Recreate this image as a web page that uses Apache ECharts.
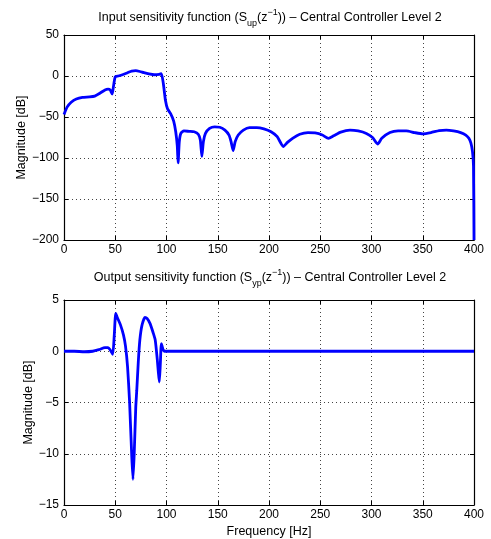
<!DOCTYPE html>
<html>
<head>
<meta charset="utf-8">
<script src="https://cdn.jsdelivr.net/npm/echarts@6/dist/echarts.min.js"></script>
<style>html,body{margin:0;padding:0;background:#fff}#c{width:491px;height:539px}</style>
</head>
<body>
<div id="c"></div>
<script>
// Input sensitivity function (dB) vs frequency (Hz)
const upFreq = [0,3,7,12,18,25,30,35,40,43,45,47,48,50,53,57,62,66,70,74,78,83,88,93,95,97,99,101,104,107,109,110.5,111.3,112.5,114,117,122,127,131,133,134.5,136,138,142,147,152,157,161,163,165,167,170,175,181,188,195,202,208,214,218,223,230,238,245,252,258,263,270,279,287,295,301,306,310,318,326,334,342,350,358,366,373,380,387,392,395,397,398.5,399.5,400];
const upMag  = [-47,-38,-32,-28,-26,-25.5,-24.5,-21,-17,-16,-17,-22,-15,-1,0,1.5,4,6,6.5,5.5,4,2.5,1.5,2,3,-10,-30,-40,-46,-55,-68,-85,-106,-80,-70,-67,-67.5,-68,-71,-78,-98,-80,-70,-64,-62,-62.5,-66,-72,-80,-91,-80,-72,-66,-63,-63,-64.5,-68,-74,-86,-81,-76,-71,-69,-69.5,-72,-76,-73,-68.5,-66,-67,-70,-75,-83,-76,-69,-67,-67,-69,-70.5,-69,-66.5,-66,-67,-69,-72,-76,-82,-92,-110,-200];
// Output sensitivity function (dB) vs frequency (Hz)
const ypFreq = [0,10,20,28,34,40,43,45,47.5,49,50.5,52,55,58,60,62,64,66,67.3,68.5,70,71,72.5,74,76,79,81,84,87,89,91,92,93,94,95,96.5,98,100,400];
const ypMag  = [0,0,-0.05,0,0.15,0.35,0.35,0.15,-0.3,1.5,3.7,3.3,2.6,1.6,0.5,-1.5,-5,-10,-12.5,-10,-5.5,-3.8,-1,1.1,2.5,3.3,3.2,2.7,1.8,1.1,-0.8,-2,-3,-1.2,0.75,0.2,0,0,0];
// Axis ticks
const xTicks = {min:0, max:400, interval:50};
const yTicksUp = {min:-200, max:50, interval:50};
const yTicksYp = {min:-15, max:5, interval:5};
const title1 = ['Input sensitivity function (S','up','(z','−1',')) – Central Controller Level 2'];
const title2 = ['Output sensitivity function (S','yp','(z','−1',')) – Central Controller Level 2'];
const xName = 'Frequency [Hz]';
const yName = 'Magnitude [dB]';

const FONT = 'Liberation Sans, Arial, Helvetica, sans-serif';
const zip = (a,b) => a.map((v,i)=>[v,b[i]]);
const fmt = v => String(v).replace('-', '−');

function richTitle(parts){
  return `{a|${parts[0]}}{sub|${parts[1]}}{a|${parts[2]}}{sup|${parts[3]}}{a|${parts[4]}}`;
}
const rich = {
  a:{fontSize:12.5, fontFamily:FONT, fontWeight:'normal', color:'#000', lineHeight:20, verticalAlign:'middle'},
  sub:{fontSize:9, fontFamily:FONT, fontWeight:'normal', color:'#000', lineHeight:20, verticalAlign:'bottom'},
  sup:{fontSize:9, fontFamily:FONT, fontWeight:'normal', color:'#000', lineHeight:20, verticalAlign:'top'}
};

const grids = [
  {left:64, top:35, width:410, height:205},
  {left:64, top:300, width:410, height:205}
];
function xAx(gi, pos, labels, name){
  return Object.assign({type:'value', gridIndex:gi, position:pos}, xTicks, {
    axisLine:{show:true, onZero:false, lineStyle:{color:'#000', width:1.2}},
    axisTick:{show:true, inside:true, length:4, lineStyle:{color:'#000'}},
    axisLabel:{show:labels, color:'#000', fontSize:12, fontFamily:FONT, margin:4, formatter:fmt},
    splitLine:{show:labels, lineStyle:{color:'#444', type:[1,3], width:1}},
    name: name||'', nameLocation:'middle', nameGap:20, nameMoveOverlap:false,
    nameTextStyle:{color:'#000', fontSize:12.5, fontFamily:FONT}
  });
}
function yAx(gi, pos, ticks, labels){
  return Object.assign({type:'value', gridIndex:gi, position:pos}, ticks, {
    axisLine:{show:true, onZero:false, lineStyle:{color:'#000', width:1.2}},
    axisTick:{show:true, inside:true, length:4, lineStyle:{color:'#000'}},
    axisLabel:{show:labels, color:'#000', fontSize:12, fontFamily:FONT, margin:5, formatter:fmt},
    splitLine:{show:labels, lineStyle:{color:'#444', type:[1,3], width:1}},
    name: labels ? yName : '', nameLocation:'middle', nameGap:ticks.min===-200?36:29, nameMoveOverlap:false,
    nameTextStyle:{color:'#000', fontSize:12.5, fontFamily:FONT}
  });
}

const chart = echarts.init(document.getElementById('c'), null, {renderer:'canvas'});
chart.setOption({
  animation:false,
  backgroundColor:'#fff',
  title:[
    {text:richTitle(title1), left:265, top:3, textAlign:'center', textStyle:{fontWeight:'normal', rich}},
    {text:richTitle(title2), left:265, top:263, textAlign:'center', textStyle:{fontWeight:'normal', rich}}
  ],
  grid:grids,
  xAxis:[xAx(0,'bottom',true), xAx(0,'top',false), xAx(1,'bottom',true,xName), xAx(1,'top',false)],
  yAxis:[yAx(0,'left',yTicksUp,true), yAx(0,'right',yTicksUp,false), yAx(1,'left',yTicksYp,true), yAx(1,'right',yTicksYp,false)],
  series:[
    {type:'line', xAxisIndex:0, yAxisIndex:0, data:zip(upFreq,upMag), showSymbol:false, smooth:0.2,
     lineStyle:{color:'#0000ff', width:2.8}, clip:true},
    {type:'line', xAxisIndex:2, yAxisIndex:2, data:zip(ypFreq,ypMag), showSymbol:false, smooth:0.2,
     lineStyle:{color:'#0000ff', width:2.8}, clip:true}
  ]
});
</script>
</body>
</html>
